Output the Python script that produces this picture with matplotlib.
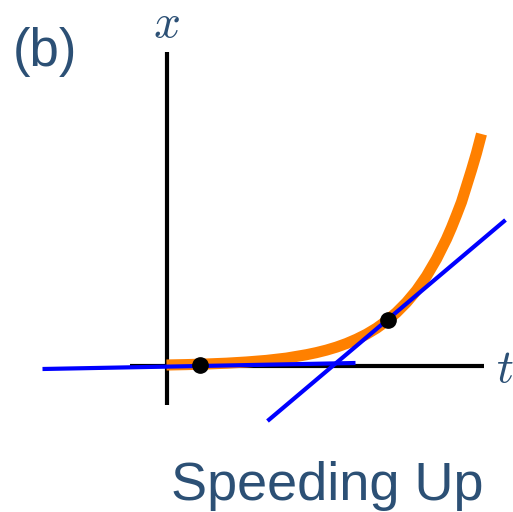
import matplotlib
matplotlib.use('Agg')
import matplotlib.pyplot as plt

plt.rcParams['mathtext.fontset'] = 'cm'
plt.rcParams['font.family'] = ['Liberation Sans', 'DejaVu Sans']

# curve x(t) (1 unit = 100 px)
curve_t = [0.0, 0.2, 0.4, 0.6, 0.8, 1.0, 1.2, 1.4, 1.5, 1.6, 1.7, 1.8, 1.9,
           2.0, 2.1, 2.2, 2.3, 2.4, 2.5, 2.6, 2.7, 2.8, 2.85, 2.9, 2.95,
           3.0, 3.05, 3.1, 3.15]
curve_x = [0.01, 0.014, 0.02, 0.028, 0.04, 0.056, 0.079, 0.113, 0.134,
           0.159, 0.189, 0.225, 0.268, 0.318, 0.378, 0.45, 0.535, 0.636,
           0.755, 0.899, 1.07, 1.27, 1.385, 1.51, 1.64, 1.80, 1.96, 2.13, 2.32]

# tangent lines (end points)
tan1_t = [-1.24, 1.89]
tan1_x = [-0.03, 0.03]
tan2_t = [1.01, 3.39]
tan2_x = [-0.55, 1.46]

# touching points
dot_t = [0.33, 2.21]
dot_x = [0.01, 0.46]

# axis extents
t_axis = [-0.37, 3.17]
x_axis = [-0.39, 3.14]

text_color = '#2c5075'

fig = plt.figure(figsize=(5.13, 5.12), dpi=100)
ax = fig.add_axes([0, 0, 1, 1])
ax.set_xlim(-1.665, 3.465)
ax.set_ylim(-1.46, 3.66)
ax.axis('off')

ax.plot(t_axis, [0, 0], color='black', lw=3, zorder=1, solid_capstyle='butt')
ax.plot([0, 0], x_axis, color='black', lw=3, zorder=1, solid_capstyle='butt')

ax.plot(curve_t, curve_x, color='#ff8000', lw=8, zorder=2,
        solid_capstyle='butt', solid_joinstyle='round')
ax.plot(tan1_t, tan1_x, color='#0000ff', lw=3, zorder=3, solid_capstyle='butt')
ax.plot(tan2_t, tan2_x, color='#0000ff', lw=3, zorder=3, solid_capstyle='butt')
ax.plot(dot_t, dot_x, 'o', color='black', ms=11, zorder=4)

fig.text(13 / 513, 1 - 52 / 512, '(b)', fontsize=38, color=text_color,
         ha='left', va='center')
fig.text(166 / 513, 1 - 25 / 512, '$x$', fontsize=34, color=text_color,
         ha='center', va='center')
fig.text(505 / 513, 1 - 370 / 512, '$t$', fontsize=34, color=text_color,
         ha='center', va='center')
fig.text(327 / 513, 1 - 500 / 512, 'Speeding Up', fontsize=39, color=text_color,
         ha='center', va='baseline')

fig.savefig('out.png', dpi=100)
